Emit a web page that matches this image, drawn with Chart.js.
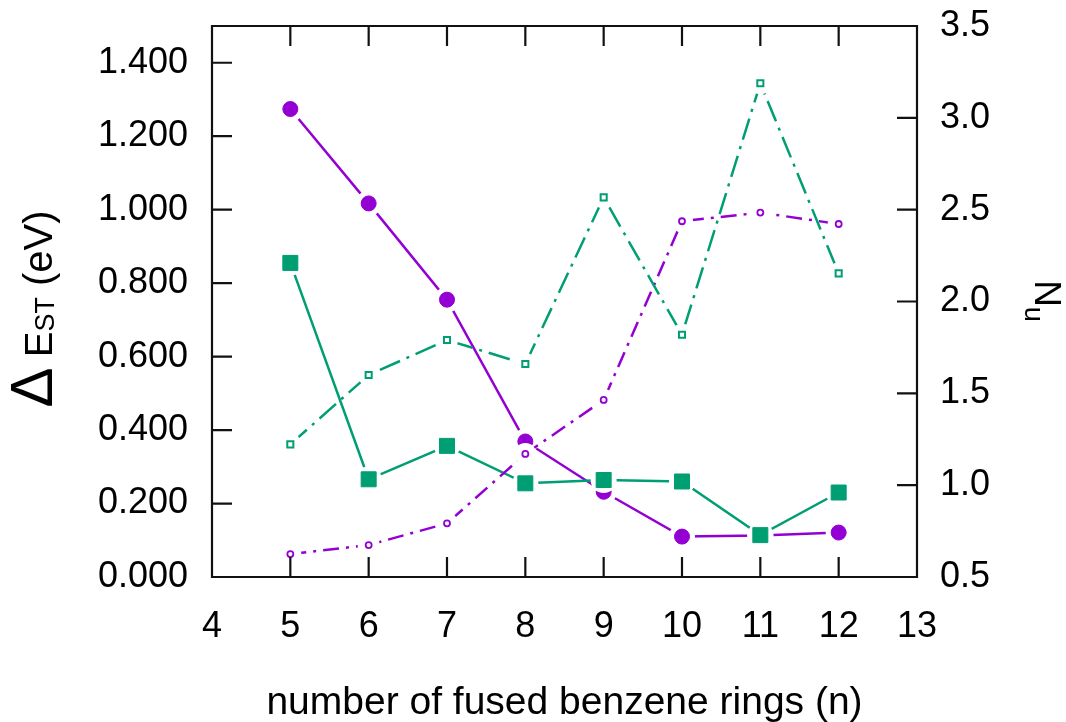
<!DOCTYPE html>
<html>
<head>
<meta charset="utf-8">
<script src="https://cdn.jsdelivr.net/npm/chart.js@4.4.0/dist/chart.umd.min.js"></script>
<style>
    body { margin: 0; background: #fff; }
    #wrap { width: 1066px; height: 722px; }
</style>
</head>
<body>
<div id="wrap"><canvas id="chart" width="1066" height="722"></canvas></div>
<script>
// Data
const rings = [5, 6, 7, 8, 9, 10, 11, 12];
const deltaCircles = [1.274, 1.017, 0.755, 0.369, 0.232, 0.110, 0.113, 0.121];
const deltaSquares = [0.855, 0.266, 0.357, 0.255, 0.264, 0.260, 0.114, 0.230];
const nuCircles = [0.625, 0.674, 0.792, 1.170, 1.464, 2.437, 2.484, 2.422];
const nuSquares = [1.222, 1.600, 1.790, 1.660, 2.567, 1.819, 3.188, 2.153];

// Axis ranges (min, max, step)
const xRange = [4, 13, 1];
const leftRange = [0, 1.5, 0.2];
const rightRange = [0.5, 3.5, 0.5];

const xTitle = 'number of fused benzene rings (n)';

const PURPLE = '#9400d3';
const GREEN = '#009e73';
const FONT = '"Liberation Sans", Arial, sans-serif';

Chart.defaults.font.family = FONT;
Chart.defaults.color = '#000';

function points(values) {
    return rings.map((n, i) => ({ x: n, y: values[i] }));
}

// one gnuplot-like "linespoints" series = line, white gap round points, markers
// returned top-most first (Chart.js paints the last dataset first)
function series(values, axis, color, dash, marker, gap) {
    const data = points(values);
    return [
        Object.assign({
            data: data, yAxisID: axis, showLine: false,
            pointBackgroundColor: color, pointBorderColor: color
        }, marker),
        {
            data: data, yAxisID: axis, showLine: false,
            pointStyle: 'circle', pointRadius: gap,
            pointBackgroundColor: '#fff', pointBorderWidth: 0
        },
        {
            data: data, yAxisID: axis,
            borderColor: color, borderWidth: 2.5, borderDash: dash,
            pointRadius: 0
        }
    ];
}

function drawParts(c, parts) {
    let total = 0;
    parts.forEach(p => {
        c.font = p.size + 'px ' + FONT;
        p.w = c.measureText(p.t).width;
        total += p.w;
    });
    let x = -total / 2;
    parts.forEach(p => {
        c.font = p.size + 'px ' + FONT;
        c.fillText(p.t, x, p.dy);
        x += p.w;
    });
}

// frame, inward ticks and axis titles
const decor = {
    id: 'decor',
    afterDraw(chart) {
        const c = chart.ctx;
        const a = chart.chartArea;
        const len = 20;
        const sx = chart.scales.x, sy = chart.scales.y, sy2 = chart.scales.y2;
        c.save();
        c.strokeStyle = '#111';
        c.lineWidth = 2.2;
        c.beginPath();
        sx.ticks.forEach(t => {
            const px = sx.getPixelForValue(t.value);
            c.moveTo(px, a.bottom);
            c.lineTo(px, a.bottom - len);
            c.moveTo(px, a.top);
            c.lineTo(px, a.top + len);
        });
        sy.ticks.forEach(t => {
            const py = sy.getPixelForValue(t.value);
            c.moveTo(a.left, py);
            c.lineTo(a.left + len, py);
        });
        sy2.ticks.forEach(t => {
            const py = sy2.getPixelForValue(t.value);
            c.moveTo(a.right, py);
            c.lineTo(a.right - len, py);
        });
        c.rect(a.left, a.top, a.right - a.left, a.bottom - a.top);
        c.stroke();

        c.fillStyle = '#000';
        c.textBaseline = 'alphabetic';
        c.textAlign = 'center';
        c.font = '39px ' + FONT;
        c.fillText(xTitle, (a.left + a.right) / 2, 714);

        c.textAlign = 'left';
        c.save();
        c.translate(52, 309);
        c.rotate(-Math.PI / 2);
        drawParts(c, [
            { t: '\u0394', size: 60, dy: 0 },
            { t: ' E', size: 38, dy: 0 },
            { t: 'ST', size: 27, dy: 2 },
            { t: ' (eV)', size: 40, dy: 0 }
        ]);
        c.restore();

        c.save();
        c.translate(1035, 301);
        c.rotate(Math.PI / 2);
        drawParts(c, [
            { t: 'N', size: 37, dy: 0 },
            { t: 'u', size: 27, dy: 10 }
        ]);
        c.restore();
        c.restore();
    }
};

// painted bottom to top: purple solid, green solid, purple dashed, green dashed
const datasets = [].concat(
    series(nuSquares, 'y2', GREEN, [22, 7, 3, 7],
        { pointStyle: 'rect', pointRadius: 4.3, pointBackgroundColor: '#fff', pointBorderWidth: 2 }, 11),
    series(nuCircles, 'y2', PURPLE, [16, 7, 3, 7],
        { pointStyle: 'circle', pointRadius: 3, pointBackgroundColor: '#fff', pointBorderWidth: 1.8 }, 11),
    series(deltaSquares, 'y', GREEN, [],
        { pointStyle: 'rect', pointRadius: 10.6, pointBorderWidth: 1 }, 13),
    series(deltaCircles, 'y', PURPLE, [],
        { pointStyle: 'circle', pointRadius: 7.5, pointBorderWidth: 1 }, 13)
);

const noPad = s => { s.paddingTop = 0; s.paddingBottom = 0; };

new Chart(document.getElementById('chart').getContext('2d'), {
    type: 'line',
    data: { datasets: datasets },
    options: {
        responsive: false,
        animation: false,
        events: [],
        layout: { padding: { top: 26, left: 0, right: 0, bottom: 0 } },
        plugins: {
            legend: { display: false },
            tooltip: { enabled: false }
        },
        scales: {
            x: {
                type: 'linear',
                min: xRange[0],
                max: xRange[1],
                grid: { display: false, drawTicks: false },
                border: { display: false },
                ticks: { stepSize: xRange[2], padding: 28, font: { size: 36 } },
                afterFit: s => { s.height = 145; }
            },
            y: {
                type: 'linear',
                position: 'left',
                min: leftRange[0],
                max: leftRange[1],
                grid: { display: false, drawTicks: false },
                border: { display: false },
                ticks: {
                    stepSize: leftRange[2],
                    includeBounds: false,
                    padding: 24,
                    font: { size: 36 },
                    callback: v => v.toFixed(3)
                },
                afterFit: s => { s.width = 212; noPad(s); }
            },
            y2: {
                type: 'linear',
                position: 'right',
                min: rightRange[0],
                max: rightRange[1],
                grid: { display: false, drawTicks: false },
                border: { display: false },
                ticks: {
                    stepSize: rightRange[2],
                    padding: 23,
                    font: { size: 36 },
                    callback: v => v.toFixed(1)
                },
                afterFit: s => { s.width = 149; noPad(s); }
            }
        }
    },
    plugins: [decor]
});
</script>
</body>
</html>
